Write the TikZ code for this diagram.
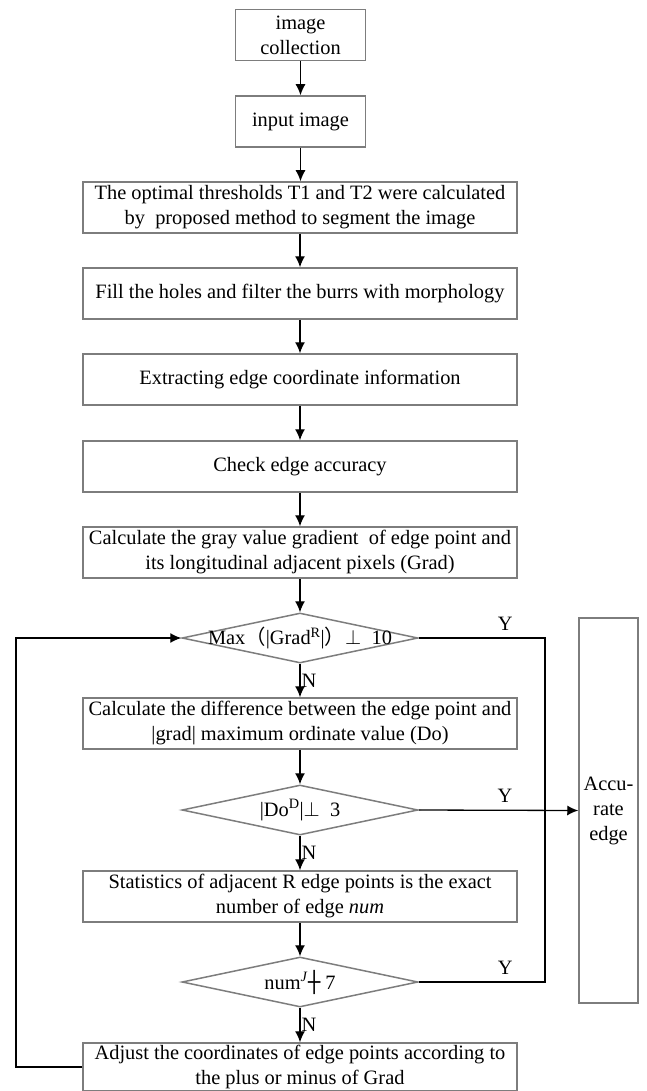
\documentclass[tikz,border=0pt]{standalone}
\usepackage{fontspec}
\setmainfont{Liberation Serif}
\newfontfamily\cjkf{Noto Sans CJK SC}
\newfontfamily\djv{DejaVu Sans}
\usetikzlibrary{shapes.geometric,arrows.meta}
\definecolor{boxgray}{RGB}{125,125,125}
\begin{document}
\begin{tikzpicture}[x=1pt,y=-1pt,
  every node/.style={font=\fontsize{20.4}{25}\selectfont},
  procbox/.style={draw=boxgray, line width=1.5pt, minimum width=434pt, minimum height=51pt, inner sep=0pt, align=center},
  smallbox/.style={procbox, minimum width=130pt},
  decision/.style={diamond, draw=boxgray, line width=1.5pt, minimum width=236pt, minimum height=50pt, inner sep=0pt},
  dtext/.style={font=\fontsize{20.4}{25}\selectfont, inner sep=0pt},
  arr/.style={-{Latex[length=11pt,width=10pt]}, line width=1.3pt},
  conn/.style={line width=1.3pt},
  lab/.style={font=\fontsize{20.4}{22}\selectfont, inner sep=1pt}
]
\useasboundingbox (0,0) rectangle (647,1091);

\node[smallbox] (b1) at (300.5,35) {image\\collection};
\node[smallbox] (b2) at (300.5,121.5) {input image};
\node[procbox] (b3) at (300,207.5) {The optimal thresholds T1 and T2 were calculated\\by\ \ proposed method to segment the image};
\node[procbox] (b4) at (300,293.5) {Fill the holes and filter the burrs with morphology};
\node[procbox] (b5) at (300,379.5) {Extracting edge coordinate information};
\node[procbox] (b6) at (300,466.5) {Check edge accuracy};
\node[procbox] (b7) at (300,552.5) {Calculate the gray value gradient\ \ of edge point and\\its longitudinal adjacent pixels (Grad)};
\node[decision, label={[dtext]center:Max{\cjkf （}|Grad\textsuperscript{R}|{\cjkf ）}$\perp$\ \ 10}] (d1) at (300,638) {};
\node[procbox] (b8) at (300,723.5) {Calculate the difference between the edge point and\\|grad| maximum ordinate value (Do)};
\node[decision, label={[dtext]center:|Do\textsuperscript{D}|$\perp$\ \ 3}] (d2) at (300,810) {};
\node[procbox] (b9) at (300,896.5) {Statistics of adjacent R edge points is the exact\\number of edge \textit{num}};
\node[decision, label={[dtext]center:num\textsuperscript{\textit{J}}{\djv ┼}\ 7}] (d3) at (300,982) {};
\node[procbox, minimum height=48pt] (b10) at (300,1067) {Adjust the coordinates of edge points according to\\the plus or minus of Grad};
\node[procbox, minimum width=59pt, minimum height=385pt] (acc) at (608.5,810.5) {Accu-\\rate\\edge};

\coordinate (rc) at (545,638);
\coordinate (loopc) at (16,1067);

\draw[arr] (b1) -- (b2);
\draw[arr] (b2) -- (b2 |- b3.north);
\draw[arr] (b3) -- (b4);
\draw[arr] (b4) -- (b5);
\draw[arr] (b5) -- (b6);
\draw[arr] (b6) -- (b7);
\draw[arr] (b7) -- (d1);
\draw[arr] (d1.south) -- node[lab,right]{N} (b8.north);
\draw[arr] (b8) -- (d2.north);
\draw[arr] (d2.south) -- node[lab,right]{N} (b9.north);
\draw[arr] (b9) -- (d3.north);
\draw[arr] (d3.south) -- node[lab,right]{N} (b10.north);
\draw[arr] (d2.east) -- node[lab,above=6pt,pos=0.54]{Y} (acc.west);
\draw[conn] (d1.east) -- node[lab,above=6pt,pos=0.685]{Y} (rc) -- (rc |- d3.east) -- node[lab,above=6pt,pos=0.315]{Y} (d3.east);
\draw[arr] (b10.west) -- (loopc) |- (d1.west);
\end{tikzpicture}
\end{document}
